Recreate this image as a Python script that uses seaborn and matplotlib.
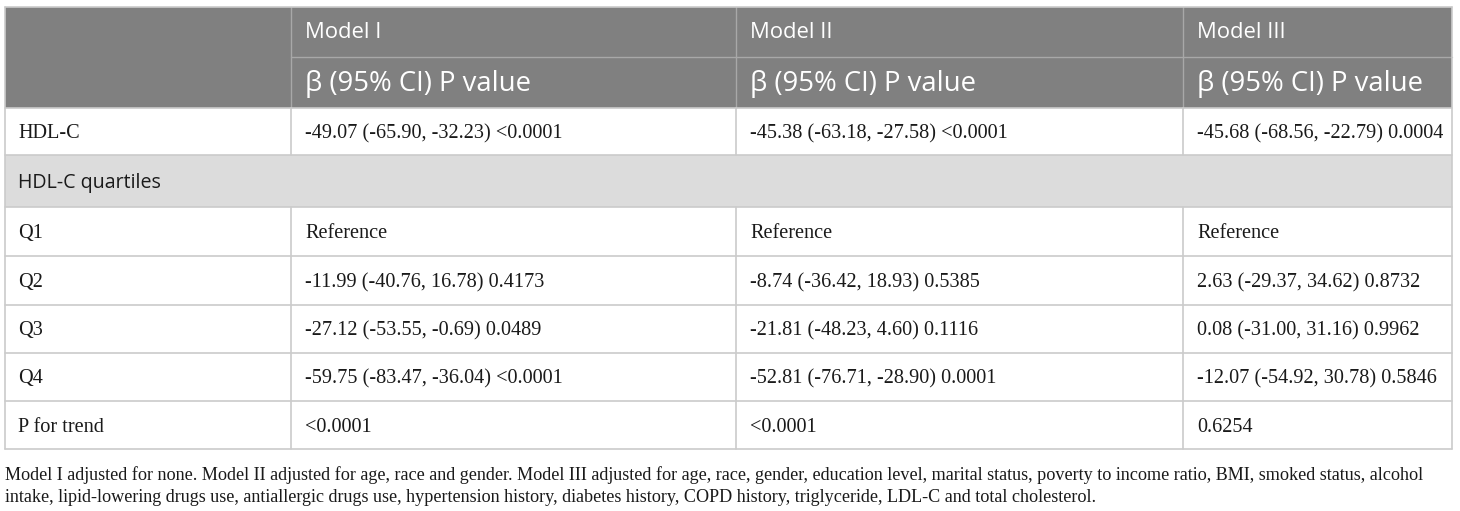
import matplotlib
matplotlib.use("Agg")
import matplotlib.pyplot as plt
import seaborn as sns

# table content
models = ["Model I", "Model II", "Model III"]
subheader = "β (95% CI) P value"
hdl_row = ["-49.07 (-65.90, -32.23) <0.0001",
           "-45.38 (-63.18, -27.58) <0.0001",
           "-45.68 (-68.56, -22.79) 0.0004"]
section_label = "HDL-C quartiles"
quart_labels = ["Q1", "Q2", "Q3", "Q4", "P for trend"]
model1 = ["Reference", "-11.99 (-40.76, 16.78) 0.4173",
          "-27.12 (-53.55, -0.69) 0.0489",
          "-59.75 (-83.47, -36.04) <0.0001", "<0.0001"]
model2 = ["Reference", "-8.74 (-36.42, 18.93) 0.5385",
          "-21.81 (-48.23, 4.60) 0.1116",
          "-52.81 (-76.71, -28.90) 0.0001", "<0.0001"]
model3 = ["Reference", "2.63 (-29.37, 34.62) 0.8732",
          "0.08 (-31.00, 31.16) 0.9962",
          "-12.07 (-54.92, 30.78) 0.5846", "0.6254"]
footnote = [
    "Model I adjusted for none. Model II adjusted for age, race and gender. Model III adjusted for age, race, gender, education level, marital status, poverty to income ratio, BMI, smoked status, alcohol",
    "intake, lipid-lowering drugs use, antiallergic drugs use, hypertension history, diabetes history, COPD history, triglyceride, LDL-C and total cholesterol.",
]

sns.set_theme(style="white")
plt.rcParams["font.family"] = ["Open Sans", "DejaVu Sans"]

W, H = 1460, 511
fig = plt.figure(figsize=(W / 100, H / 100), dpi=100)
ax = fig.add_axes([0, 0, 1, 1])
ax.set_xlim(0, W)
ax.set_ylim(H, 0)
ax.axis("off")

left, right = 5, 1452
cols = [left, 291, 736, 1183, right]
head_rows = [7, 57, 108]
body_rows = [108, 155, 207, 256, 305, 353, 401, 449]

header_bg = "#808080"
section_bg = "#dcdcdc"
grid = "#cbcbcb"
txt = "#1a1a1a"
serif = ["Liberation Serif", "DejaVu Serif"]
sans = ["Open Sans", "DejaVu Sans"]
body_fs = 14.6
dy = 2  # small downward nudge for serif body text

# header background
ax.add_patch(plt.Rectangle((left, head_rows[0]), right - left,
                           head_rows[2] - head_rows[0], color=header_bg, lw=0))
# section row background
ax.add_patch(plt.Rectangle((left, body_rows[1]), right - left,
                           body_rows[2] - body_rows[1], color=section_bg, lw=0))

# header lines
ax.plot([cols[1], right], [head_rows[1]] * 2, color="#a8a8a8", lw=1)
for x in cols[1:4]:
    ax.plot([x, x], [head_rows[0], head_rows[2]], color="#a8a8a8", lw=1)

# body horizontal lines
for y in body_rows:
    ax.plot([left, right], [y, y], color=grid, lw=1.2)
ax.plot([left, right], [head_rows[0]] * 2, color=grid, lw=1.2)
# body vertical lines
for x in [left, right]:
    ax.plot([x, x], [head_rows[0], body_rows[-1]], color=grid, lw=1.2)
for x in cols[1:4]:
    ax.plot([x, x], [body_rows[0], body_rows[1]], color=grid, lw=1.2)
    ax.plot([x, x], [body_rows[2], body_rows[-1]], color=grid, lw=1.2)

pad = 14
# header text
for i, m in enumerate(models):
    ax.text(cols[i + 1] + pad, (head_rows[0] + head_rows[1]) / 2 + 1, m,
            color="white", fontsize=15.8, family=sans, va="center", ha="left")
    ax.text(cols[i + 1] + pad, (head_rows[1] + head_rows[2]) / 2 + 1, subheader,
            color="white", fontsize=19.8, family=sans, va="center", ha="left")

# HDL-C row
ymid = (body_rows[0] + body_rows[1]) / 2 + dy
ax.text(18, ymid, "HDL-C", color=txt, fontsize=body_fs, family=serif, va="center")
for i, v in enumerate(hdl_row):
    ax.text(cols[i + 1] + pad, ymid, v, color=txt, fontsize=body_fs, family=serif, va="center")

# section row
ax.text(18, (body_rows[1] + body_rows[2]) / 2 + 2, section_label, color=txt,
        fontsize=14.1, family=sans, va="center")

# quartile rows
for r, lab in enumerate(quart_labels):
    ymid = (body_rows[r + 2] + body_rows[r + 3]) / 2 + dy
    ax.text(18, ymid, lab, color=txt, fontsize=body_fs, family=serif, va="center")
    for i, col in enumerate([model1, model2, model3]):
        ax.text(cols[i + 1] + pad, ymid, col[r], color=txt, fontsize=body_fs,
                family=serif, va="center")

# footnote
for k, line in enumerate(footnote):
    ax.text(left, 475 + 23 * k, line, color=txt, fontsize=13.05, family=serif, va="center")

fig.savefig("out.png", dpi=100)
